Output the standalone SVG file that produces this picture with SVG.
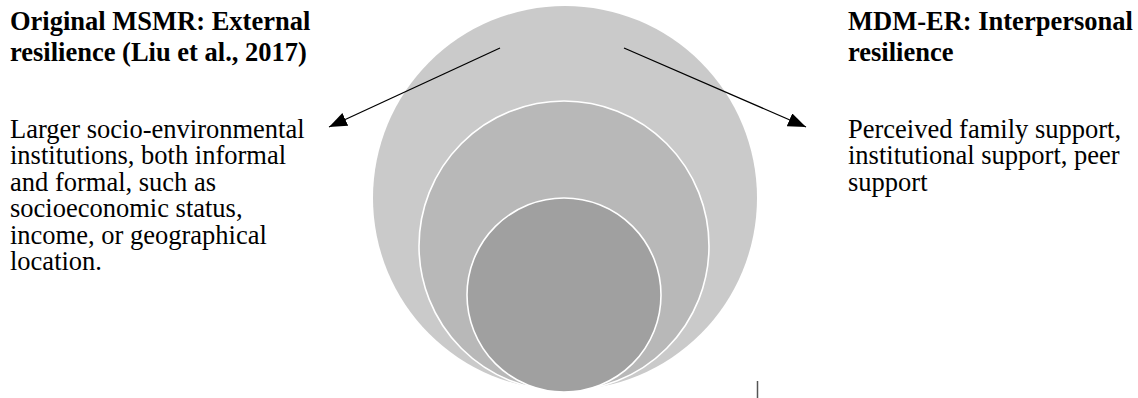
<svg xmlns="http://www.w3.org/2000/svg" width="1138" height="398" viewBox="0 0 1138 398">
<style>
text{font-family:"Liberation Serif","Times New Roman",serif;font-size:26.5px;fill:#000}
.t{font-weight:bold}
.ring{stroke:#fff;stroke-width:1.6}
.conn{stroke:#000;stroke-width:1.3;fill:none}
</style>
<defs>
<marker id="ah" markerUnits="userSpaceOnUse" markerWidth="20" markerHeight="16" refX="18" refY="7" orient="auto">
<path d="M0,0 L18,7 L0,14 z" fill="#000"/>
</marker>
</defs>
<rect width="1138" height="398" fill="#fff"/>
<g id="outer"><circle cx="565" cy="198" r="192" fill="#cacaca"/></g>
<g id="middle"><circle class="ring" cx="564" cy="246" r="145" fill="#b8b8b8"/></g>
<g id="inner"><circle class="ring" cx="564" cy="295" r="97" fill="#a0a0a0"/></g>
<g id="left-text">
<text class="t" x="10" y="30">Original MSMR: External</text>
<text class="t" x="10" y="61">resilience (Liu et al., 2017)</text>
<text x="10" y="137.5">Larger socio-environmental</text>
<text x="10" y="164">institutions, both informal</text>
<text x="10" y="190.5">and formal, such as</text>
<text x="10" y="217">socioeconomic status,</text>
<text x="10" y="243.5">income, or geographical</text>
<text x="10" y="270">location.</text>
</g>
<g id="right-text">
<text class="t" x="848" y="30">MDM-ER: Interpersonal</text>
<text class="t" x="848" y="61">resilience</text>
<text x="848" y="137.5">Perceived family support,</text>
<text x="848" y="164">institutional support, peer</text>
<text x="848" y="190.5">support</text>
</g>
<g id="connectors">
<line class="conn" x1="500" y1="48" x2="329" y2="127" marker-end="url(#ah)"/>
<line class="conn" x1="624" y1="48" x2="806" y2="127" marker-end="url(#ah)"/>
</g>
<line x1="757.5" y1="381" x2="757.5" y2="398" stroke="#555" stroke-width="1.5"/>
</svg>
